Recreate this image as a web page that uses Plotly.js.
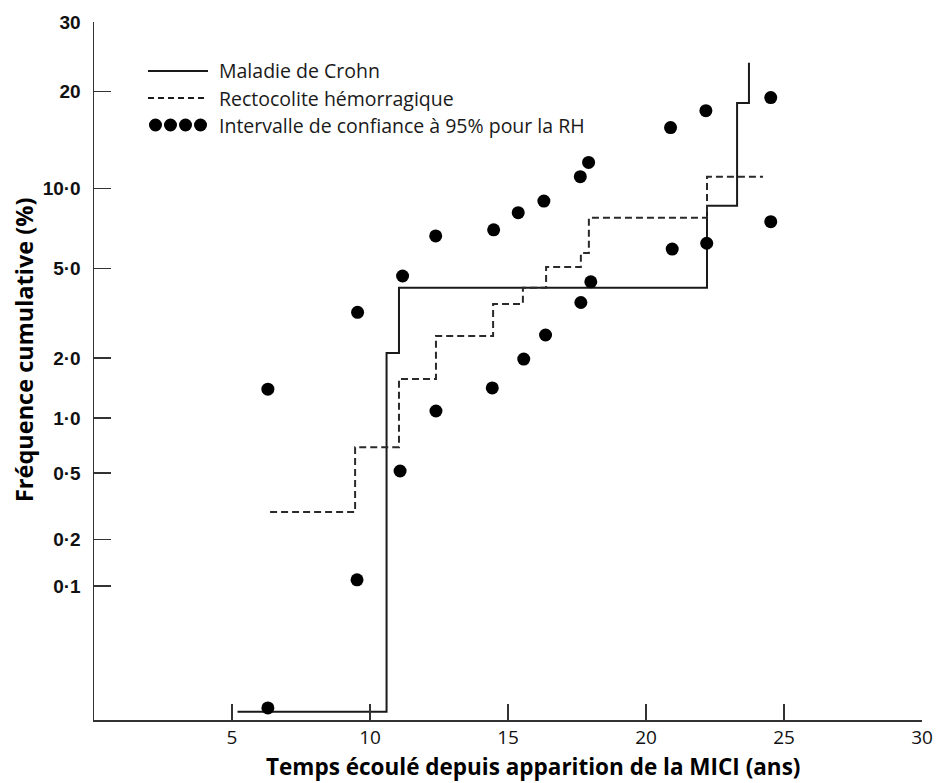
<!DOCTYPE html>
<html>
<head>
<meta charset="utf-8">
<script src="https://cdn.plot.ly/plotly-3.0.1.min.js"></script>
<style>
  html, body { margin: 0; padding: 0; background: #fff; }
  #chart { width: 936px; height: 783px; }
</style>
</head>
<body>
<div id="chart"></div>
<script>
// ---------- DATA (years, cumulative %) ----------
const crohnX = [5.2, 10.6, 11.05, 22.21, 23.3, 23.73];
const crohnY = [0.0125, 2.12, 4.15, 8.68, 18.6, 23.9];

const rhX = [6.38, 9.46, 11.05, 12.39, 14.46, 15.54, 16.38, 17.64, 17.93, 22.21, 24.24];
const rhY = [0.295, 0.698, 1.586, 2.54, 3.54, 4.15, 5.06, 5.76, 7.85, 10.96, 10.96];

const ciX = [6.30, 6.30, 9.53, 9.55, 11.09, 11.18, 12.38, 12.39, 14.43, 14.48, 15.37, 15.57,
             16.30, 16.36, 17.62, 17.64, 17.92, 18.0, 20.89, 20.95, 22.17, 22.2, 24.52, 24.52];
const ciY = [0.0134, 1.41, 0.11, 3.25, 0.513, 4.65, 6.71, 1.09, 1.43, 7.08, 8.2, 1.98,
             9.03, 2.57, 10.97, 3.59, 12.24, 4.40, 15.75, 5.97, 17.68, 6.29, 19.26, 7.6];

const yTickVals = [30, 20, 10, 5, 2, 1, 0.5, 0.2, 0.1];
const yTickText = ["30", "20", "10·0", "5·0", "2·0", "1·0", "0·5", "0·2", "0·1"];
const xTickVals = [5, 10, 15, 20, 25, 30];
const xTickText = ["5", "10", "15", "20", "25", "30"];

const legendLabels = ["Maladie de Crohn", "Rectocolite hémorragique", "Intervalle de confiance à 95% pour la RH"];
const xTitle = "Temps écoulé depuis apparition de la MICI (ans)";
const yTitle = "Fréquence cumulative (%)";

// ---------- probability (probit) scale ----------
function invNorm(p) {
  const a = [-3.969683028665376e+01, 2.209460984245205e+02, -2.759285104469687e+02,
             1.383577518672690e+02, -3.066479806614716e+01, 2.506628277459239e+00];
  const b = [-5.447609879822406e+01, 1.615858368580409e+02, -1.556989798598866e+02,
             6.680131188771972e+01, -1.328068155288572e+01];
  const c = [-7.784894002430293e-03, -3.223964580411365e-01, -2.400758277161838e+00,
             -2.549732539343734e+00, 4.374664141464968e+00, 2.938163982698783e+00];
  const d = [7.784695709041462e-03, 3.224671290700398e-01, 2.445134137142996e+00,
             3.754408661907416e+00];
  const plow = 0.02425, phigh = 1 - plow;
  let q, r;
  if (p < plow) {
    q = Math.sqrt(-2 * Math.log(p));
    return (((((c[0]*q+c[1])*q+c[2])*q+c[3])*q+c[4])*q+c[5]) /
           ((((d[0]*q+d[1])*q+d[2])*q+d[3])*q+1);
  } else if (p <= phigh) {
    q = p - 0.5; r = q * q;
    return (((((a[0]*r+a[1])*r+a[2])*r+a[3])*r+a[4])*r+a[5])*q /
           (((((b[0]*r+b[1])*r+b[2])*r+b[3])*r+b[4])*r+1);
  } else {
    q = Math.sqrt(-2 * Math.log(1 - p));
    return -(((((c[0]*q+c[1])*q+c[2])*q+c[3])*q+c[4])*q+c[5]) /
            ((((d[0]*q+d[1])*q+d[2])*q+d[3])*q+1);
  }
}
const pz = pct => invNorm(pct / 100);
const yBottomPct = 0.0108, yTopPct = 30;

const ink = '#1a1a1a';

const traces = [
  { x: crohnX, y: crohnY.map(pz), mode: 'lines', line: { shape: 'hv', color: ink, width: 2 },
    name: legendLabels[0], showlegend: false, hoverinfo: 'skip' },
  { x: rhX, y: rhY.map(pz), mode: 'lines', line: { shape: 'hv', color: '#2a2a2a', width: 2, dash: '7px,4px' },
    name: legendLabels[1], showlegend: false, hoverinfo: 'skip' },
  { x: ciX, y: ciY.map(pz), mode: 'markers', marker: { color: '#000', size: 13, symbol: 'circle' },
    name: legendLabels[2], showlegend: false, hoverinfo: 'skip' }
];

// legend built from shapes + annotations (paper coords)
const legX0 = 0.0652, legX1 = 0.1377, legTextX = 0.1486;
const legRows = [0.9298, 0.8911, 0.8524];
const shapes = [
  { type: 'line', xref: 'paper', yref: 'paper', x0: legX0, x1: legX1, y0: legRows[0], y1: legRows[0],
    line: { color: ink, width: 2 } },
  { type: 'line', xref: 'paper', yref: 'paper', x0: legX0, x1: legX1, y0: legRows[1], y1: legRows[1],
    line: { color: ink, width: 2, dash: '6px,4px' } }
];
for (let i = 0; i < 4; i++) {
  const cx = legX0 + (legX1 - legX0) * (i + 0.5) / 4;
  shapes.push({ type: 'circle', xref: 'paper', yref: 'paper', xsizemode: 'pixel', ysizemode: 'pixel',
    xanchor: cx, yanchor: legRows[2], x0: -6.5, x1: 6.5, y0: -6.5, y1: 6.5,
    fillcolor: '#000', line: { width: 0 } });
}

const legFont = { family: 'Open Sans, sans-serif', size: 19.5, color: ink };
const annotations = legendLabels.map((t, i) => ({
  text: t, xref: 'paper', yref: 'paper', x: legTextX, y: legRows[i],
  xanchor: 'left', yanchor: 'middle', showarrow: false, font: legFont
}));
annotations.push({
  text: '<b>' + xTitle + '</b>', xref: 'paper', yref: 'paper', x: 0.530, y: -0.0665,
  xanchor: 'center', yanchor: 'middle', showarrow: false,
  font: { family: 'Open Sans, sans-serif', size: 22.5, color: '#000' }
});
annotations.push({
  text: '<b>' + yTitle + '</b>', xref: 'paper', yref: 'paper', x: -0.0845, y: 0.5301,
  xanchor: 'center', yanchor: 'middle', showarrow: false, textangle: -90,
  font: { family: 'Open Sans, sans-serif', size: 23.5, color: '#000' }
});

const layout = {
  width: 936, height: 783,
  margin: { l: 94, r: 14, t: 22, b: 63 },
  paper_bgcolor: '#fff', plot_bgcolor: '#fff',
  showlegend: false,
  xaxis: {
    range: [0, 30], tickvals: xTickVals, ticktext: xTickText,
    ticks: 'inside', ticklen: 16, tickwidth: 1.5, tickcolor: '#333',
    showline: true, linecolor: '#333', linewidth: 1.5,
    showgrid: false, zeroline: false,
    tickfont: { family: 'Open Sans, sans-serif', size: 19, color: '#111' },
    ticklabelstandoff: 0
  },
  yaxis: {
    range: [pz(yBottomPct), pz(yTopPct)],
    tickvals: yTickVals.map(pz), ticktext: yTickText,
    ticks: 'inside', ticklen: 17, tickwidth: 1.5, tickcolor: '#333',
    showline: true, linecolor: '#333', linewidth: 1.5,
    showgrid: false, zeroline: false,
    tickfont: { family: 'Liberation Sans, Arial, sans-serif', size: 19, color: '#111', weight: 'bold' },
    ticklabelstandoff: 8
  },
  shapes: shapes,
  annotations: annotations
};

Plotly.newPlot('chart', traces, layout, { staticPlot: true, displayModeBar: false });
</script>
</body>
</html>
